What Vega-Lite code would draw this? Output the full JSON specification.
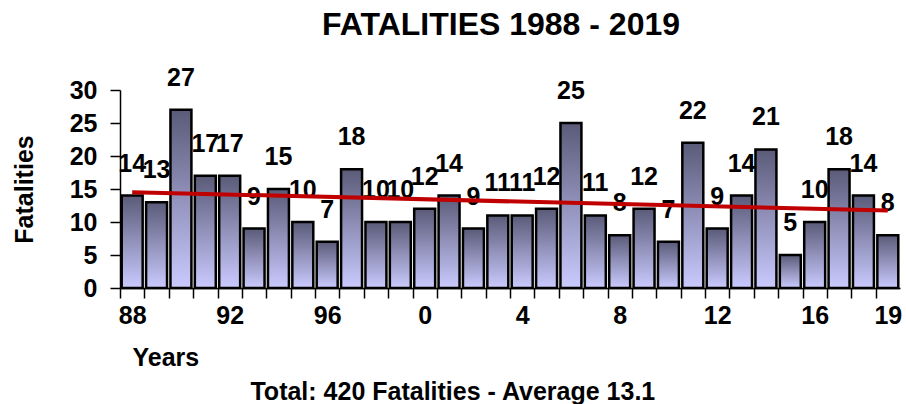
{
  "$schema": "https://vega.github.io/schema/vega-lite/v6.json",
  "padding": {"left": 11, "top": 8, "right": 0, "bottom": 0},
  "background": "white",
  "config": {
    "view": {"stroke": null},
    "font": "Liberation Sans",
    "axis": {"labelFont": "Liberation Sans", "titleFont": "Liberation Sans", "labelFontWeight": "bold", "titleFontWeight": "bold", "labelColor": "black", "titleColor": "black", "domainColor": "black", "tickColor": "black", "grid": false},
    "axisY": {"labelOverlap": false, "labelBound": false, "labelFlush": false, "labelSeparation": 0}
  },
  "title": {
    "text": "Total: 420 Fatalities - Average 13.1",
    "orient": "bottom",
    "anchor": "middle",
    "fontSize": 25,
    "fontWeight": "bold",
    "font": "Liberation Sans",
    "color": "black",
    "baseline": "middle",
    "offset": 22,
    "dx": -4
  },
  "data": {
    "values": [
      {"year": 1988, "fatalities": 14}, {"year": 1989, "fatalities": 13}, {"year": 1990, "fatalities": 27},
      {"year": 1991, "fatalities": 17}, {"year": 1992, "fatalities": 17}, {"year": 1993, "fatalities": 9},
      {"year": 1994, "fatalities": 15}, {"year": 1995, "fatalities": 10}, {"year": 1996, "fatalities": 7},
      {"year": 1997, "fatalities": 18}, {"year": 1998, "fatalities": 10}, {"year": 1999, "fatalities": 10},
      {"year": 2000, "fatalities": 12}, {"year": 2001, "fatalities": 14}, {"year": 2002, "fatalities": 9},
      {"year": 2003, "fatalities": 11}, {"year": 2004, "fatalities": 11}, {"year": 2005, "fatalities": 12},
      {"year": 2006, "fatalities": 25}, {"year": 2007, "fatalities": 11}, {"year": 2008, "fatalities": 8},
      {"year": 2009, "fatalities": 12}, {"year": 2010, "fatalities": 7}, {"year": 2011, "fatalities": 22},
      {"year": 2012, "fatalities": 9}, {"year": 2013, "fatalities": 14}, {"year": 2014, "fatalities": 21},
      {"year": 2015, "fatalities": 5}, {"year": 2016, "fatalities": 10}, {"year": 2017, "fatalities": 18},
      {"year": 2018, "fatalities": 14}, {"year": 2019, "fatalities": 8}
    ]
  },
  "vconcat": [
    {
      "width": 780,
      "height": 198,
      "title": {
        "text": "FATALITIES 1988 - 2019",
        "fontSize": 32,
        "fontWeight": "bold",
        "font": "Liberation Sans",
        "color": "black",
        "anchor": "middle",
        "frame": "group",
        "baseline": "alphabetic",
        "offset": -1,
        "dx": -9
      },
      "encoding": {
        "x": {
          "field": "year",
          "type": "ordinal",
          "scale": {"paddingInner": 0.14, "paddingOuter": 0.07},
          "axis": {
            "orient": "bottom",
            "title": "Years",
            "titleFontSize": 25,
            "titleAlign": "left",
            "titleBaseline": "middle",
            "titleX": 12,
            "titleY": 69,
            "labelFontSize": 25,
            "labelAngle": 0,
            "labelPadding": 5,
            "labelOverlap": false,
            "ticks": true,
            "tickSize": 10,
            "tickWidth": 1.5,
            "domain": true,
            "domainWidth": 1.5,
            "bandPosition": 0,
            "tickOffset": -1.7,
            "labelOffset": 1.7,
            "zindex": 1,
            "labelExpr": "(datum.value % 4 == 0 || datum.value == 2019) ? toString(datum.value % 100) : ''"
          }
        },
        "y": {
          "field": "fatalities",
          "type": "quantitative",
          "scale": {"domain": [0, 30], "nice": false},
          "axis": {
            "orient": "left",
            "title": "Fatalities",
            "titleFontSize": 25,
            "titleAngle": -90,
            "titleAlign": "center",
            "titleBaseline": "middle",
            "titleX": -96,
            "titleY": 99,
            "labelFontSize": 25,
            "labelPadding": 13,
            "labelOverlap": false,
            "labelBound": false,
            "values": [0, 5, 10, 15, 20, 25, 30],
            "ticks": true,
            "tickSize": 10,
            "tickWidth": 1.5,
            "domain": true,
            "domainWidth": 1.5,
            "zindex": 1
          }
        }
      },
      "layer": [
        {
          "mark": {
            "type": "bar",
            "stroke": "black",
            "strokeWidth": 2.5,
            "color": {
              "gradient": "linear",
              "x1": 0, "y1": 0, "x2": 0, "y2": 1,
              "stops": [
                {"offset": 0, "color": "#5a5a78"},
                {"offset": 1, "color": "#cacaff"}
              ]
            }
          }
        },
        {
          "mark": {"type": "text", "fontSize": 25, "fontWeight": "bold", "font": "Liberation Sans", "color": "black", "baseline": "middle", "dy": -32},
          "encoding": {
            "text": {"field": "fatalities", "type": "quantitative"}
          }
        },
        {
          "transform": [{"regression": "fatalities", "on": "year"}],
          "mark": {"type": "line", "color": "#c00000", "strokeWidth": 4}
        }
      ]
    }
  ]
}
